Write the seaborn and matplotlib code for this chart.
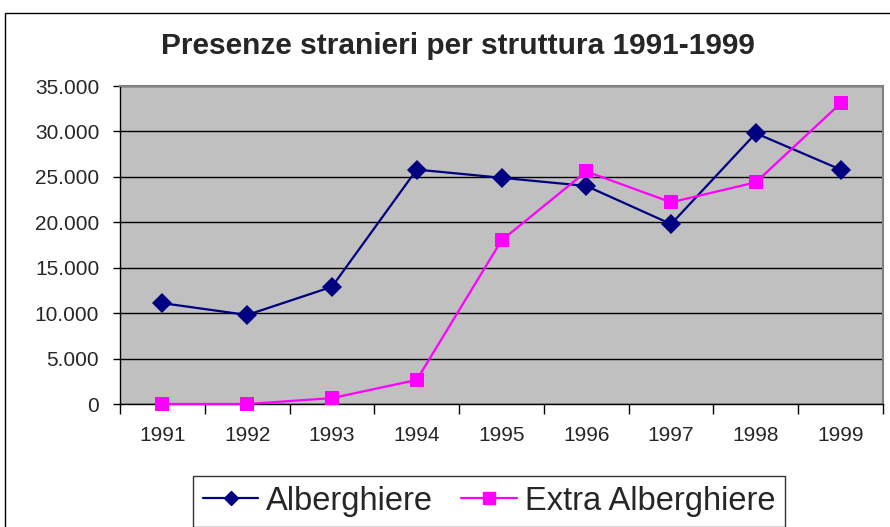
import matplotlib
matplotlib.use("Agg")
import matplotlib.pyplot as plt
from matplotlib.patches import Rectangle
from matplotlib.ticker import FuncFormatter, FixedLocator
import seaborn as sns
import pandas as pd

years = ["1991", "1992", "1993", "1994", "1995", "1996", "1997", "1998", "1999"]
alberghiere = [11100, 9800, 12900, 25800, 24900, 24000, 19800, 29800, 25800]
extra_alberghiere = [0, 0, 650, 2650, 18000, 25600, 22200, 24400, 33100]
series_names = ["Alberghiere", "Extra Alberghiere"]
title = "Presenze stranieri per struttura 1991-1999"

sns.set_style("white")
plt.rcParams["font.family"] = ["Liberation Sans", "DejaVu Sans"]

df = pd.DataFrame({
    "pos": list(range(len(years))) * 2,
    "value": alberghiere + extra_alberghiere,
    "serie": [series_names[0]] * len(years) + [series_names[1]] * len(years),
})

fig = plt.figure(figsize=(8.9, 5.27), dpi=100)
ax = fig.add_axes([120/890, 1-404/527, (883-120)/890, (404-86)/527])
ax.set_facecolor("#C0C0C0")

palette = {series_names[0]: "#000080", series_names[1]: "#FF00FF"}
markers = {series_names[0]: "D", series_names[1]: "s"}
sns.lineplot(data=df, x="pos", y="value", hue="serie", style="serie",
             palette=palette, markers=markers, dashes=False, lw=1.6,
             markersize=10, markeredgewidth=0, ax=ax, legend=False, zorder=3)
for ln in ax.lines:
    ln.set_clip_on(False)

ax.set_xlim(-0.5, len(years) - 0.5)
ax.set_ylim(0, 35000)
ax.set_yticks(range(0, 35001, 5000))
ax.yaxis.set_major_formatter(FuncFormatter(lambda v, p: f"{int(v):,}".replace(",", ".")))
ax.set_xticks(range(len(years)))
ax.set_xticklabels(years)
ax.xaxis.set_minor_locator(FixedLocator([i - 0.5 for i in range(len(years) + 1)]))
ax.tick_params(axis="x", which="major", length=0, pad=16, labelsize=15)
ax.tick_params(axis="x", which="minor", length=7, width=1, color="black", direction="out", bottom=True)
ax.tick_params(axis="y", length=5, width=1, color="black", direction="out", left=True, pad=10, labelsize=15)
ax.grid(axis="y", color="black", lw=1)
ax.set_axisbelow(True)
ax.set_xlabel("")
ax.set_ylabel("")
for s in ["left", "bottom"]:
    ax.spines[s].set_color("black")
    ax.spines[s].set_linewidth(1)
for s in ["top", "right"]:
    ax.spines[s].set_color("#808080")
    ax.spines[s].set_linewidth(1.5)

fig.text(458/890, 1-46/527, title, ha="center", va="center", fontsize=21.5, fontweight="bold")

# outer chart border
fig.patches.append(Rectangle((5/890, -0.05), 1.2, 1-13/527+0.05, transform=fig.transFigure,
                             fill=False, edgecolor="black", lw=1))

handles = [plt.Line2D([], [], color="#000080", marker="D", markersize=7, lw=1.6),
           plt.Line2D([], [], color="#FF00FF", marker="s", markersize=9, lw=1.6)]
leg = fig.legend(handles, series_names, loc="upper left", bbox_to_anchor=(193/890, 1-476/527),
                 ncol=2, fontsize=23.5, frameon=True, fancybox=False, edgecolor="black",
                 handlelength=1.7, handletextpad=0.25, columnspacing=0.85, borderpad=0.3,
                 borderaxespad=0)
leg.get_frame().set_linewidth(1)

fig.savefig("out.png", dpi=100)
